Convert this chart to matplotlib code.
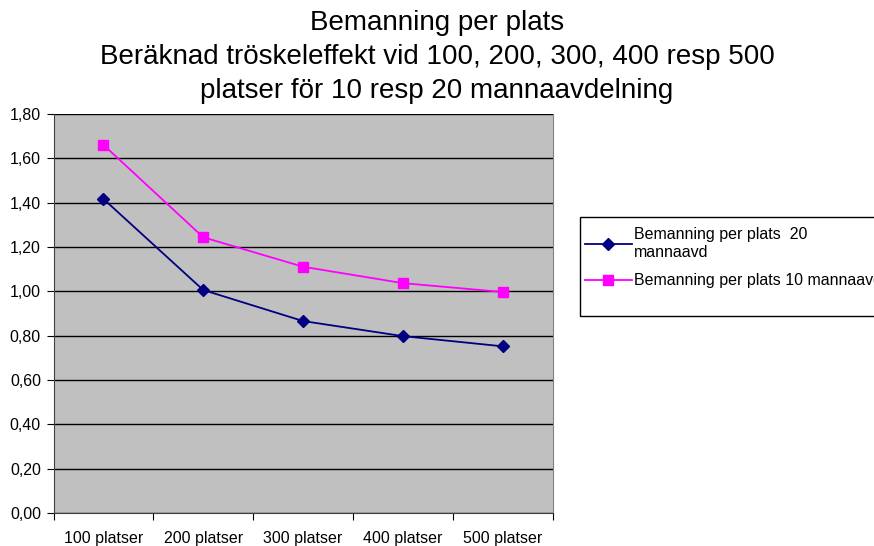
import matplotlib
matplotlib.use("Agg")
import matplotlib.pyplot as plt
from matplotlib.patches import Rectangle
from matplotlib.ticker import FuncFormatter, FixedLocator
import numpy as np

plt.rcParams["font.family"] = ["Liberation Sans", "DejaVu Sans"]

categories = ["100 platser", "200 platser", "300 platser", "400 platser", "500 platser"]
bem_20 = [1.417, 1.006, 0.866, 0.798, 0.752]
bem_10 = [1.661, 1.244, 1.111, 1.037, 0.997]
label_20 = "Bemanning per plats  20\nmannaavd"
label_10 = "Bemanning per plats 10 mannaavd"
title = ("Bemanning per plats\n"
         "Beräknad tröskeleffekt vid 100, 200, 300, 400 resp 500\n"
         "platser för 10 resp 20 mannaavdelning")

W, H = 874, 546
fig = plt.figure(figsize=(W / 100, H / 100), dpi=100)
ax = fig.add_axes([53.5 / W, 1 - 513 / H, (552.5 - 53.5) / W, (513 - 114) / H])
ax.set_facecolor("#C0C0C0")

x = np.arange(len(categories))
l20, = ax.plot(x, bem_20, color="#000080", lw=1.3, marker="D", ms=6.5,
               markerfacecolor="#000080", markeredgecolor="#000080", label=label_20)
l10, = ax.plot(x, bem_10, color="#FF00FF", lw=1.3, marker="s", ms=6.8,
               markerfacecolor="#FF00FF", markeredgecolor="#FF00FF", label=label_10)

ax.set_xlim(-0.5, len(categories) - 0.5)
ax.set_ylim(0, 1.8)
ax.set_yticks(np.arange(0, 1.81, 0.2))
ax.yaxis.set_major_formatter(FuncFormatter(lambda v, p: f"{v:.2f}".replace(".", ",")))
ax.grid(True, axis="y", color="black", lw=1)
ax.set_axisbelow(True)

# category labels centred, tick marks at the boundaries
ax.xaxis.set_major_locator(FixedLocator(np.arange(-0.5, len(categories), 1)))
ax.xaxis.set_major_formatter(FuncFormatter(lambda v, p: ""))
ax.xaxis.set_minor_locator(FixedLocator(x))
ax.set_xticklabels(categories, minor=True)
ax.tick_params(axis="x", which="minor", length=0, pad=13, labelsize=11.5)
ax.tick_params(axis="x", which="major", length=5, direction="out", color="black")
ax.tick_params(axis="y", length=5, direction="out", labelsize=11.5, pad=4)

ax.spines["top"].set_visible(False)
ax.spines["right"].set_color("#808080")
ax.spines["left"].set_color("#404040")
ax.spines["bottom"].set_color("#404040")

fig.text(0.5, 1 - 10 / H, title, ha="center", va="top", fontsize=20, linespacing=1.4)

# legend box (Excel style, runs past the right edge like the original)
fig.add_artist(Rectangle((580 / W, 1 - 316 / H), 320 / W, 99 / H,
                         transform=fig.transFigure, facecolor="white",
                         edgecolor="black", lw=1, zorder=1))
leg = fig.legend(handles=[l20, l10], loc="upper left",
                 bbox_to_anchor=(578 / W, 1 - 220 / H), frameon=False,
                 fontsize=11.5, handlelength=2.9, borderpad=0.45,
                 labelspacing=0.85, borderaxespad=0, handletextpad=0.15)
leg.set_zorder(2)

fig.savefig("out.png", dpi=100)
